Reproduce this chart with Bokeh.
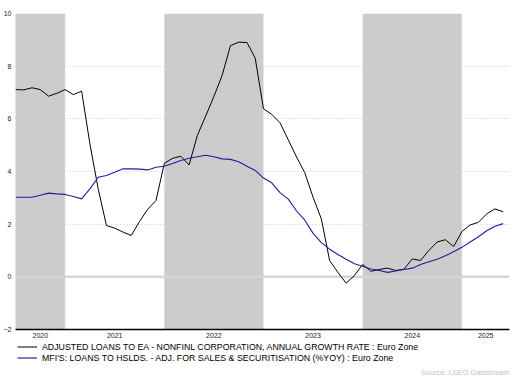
from bokeh.plotting import figure
from bokeh.layouts import column
from bokeh.models import Range1d, FixedTicker, Span, Legend, LegendItem, Label
from bokeh.embed import file_html
from bokeh.resources import INLINE

# ---- data (monthly, first value = June 2020, plotted at month end) ----
start_year, start_month = 2020, 6
nfc_loans = [7.11, 7.10, 7.18, 7.11, 6.86, 6.97, 7.11, 6.92, 7.05, 5.05,
             3.35, 1.95, 1.85, 1.70, 1.57, 2.10, 2.57, 2.90, 4.31, 4.50,
             4.58, 4.25, 5.37, 6.10, 6.85, 7.65, 8.78, 8.91, 8.90, 8.30,
             6.38, 6.17, 5.85, 5.20, 4.55, 3.95, 3.02, 2.20, 0.62, 0.17,
             -0.24, 0.05, 0.47, 0.21, 0.28, 0.33, 0.24, 0.29, 0.68, 0.62,
             1.00, 1.32, 1.41, 1.15, 1.72, 1.97, 2.07, 2.39, 2.58, 2.47]
hh_loans = [3.02, 3.02, 3.02, 3.10, 3.18, 3.15, 3.13, 3.05, 2.96, 3.34,
            3.78, 3.85, 3.97, 4.10, 4.10, 4.09, 4.06, 4.16, 4.20, 4.30,
            4.42, 4.50, 4.56, 4.62, 4.56, 4.48, 4.46, 4.37, 4.20, 4.04,
            3.75, 3.57, 3.20, 2.95, 2.50, 2.15, 1.65, 1.30, 1.05, 0.85,
            0.67, 0.50, 0.40, 0.30, 0.24, 0.17, 0.22, 0.28, 0.33, 0.47,
            0.57, 0.67, 0.80, 0.95, 1.12, 1.32, 1.52, 1.75, 1.92, 2.02]
nfc_label = "ADJUSTED LOANS TO EA - NONFINL CORPORATION, ANNUAL GROWTH RATE : Euro Zone"
hh_label = "MFI'S: LOANS TO HSLDS. - ADJ. FOR SALES & SECURITISATION (%YOY) : Euro Zone"
year_labels = ["2020", "2021", "2022", "2023", "2024", "2025"]
year_label_pos = [2020.75, 2021.5, 2022.5, 2023.5, 2024.5, 2025.24]
year_boundaries = [2021, 2022, 2023, 2024, 2025]
shaded_years = [2020, 2022, 2024]
y_ticks = [-2, 0, 2, 4, 6, 8, 10]
y_min, y_max = -2, 10
x_min, x_max = 2020.5, 2025.48
source_text = "Source: LSEG Datastream"

x = [start_year + (start_month + i) / 12 for i in range(len(nfc_loans))]

FONT = "Liberation Sans"
W = 512

p = figure(width=W, height=341, x_range=Range1d(x_min, x_max),
           y_range=Range1d(y_min, y_max), output_backend="svg",
           toolbar_location=None, min_border_left=15, min_border_right=3,
           min_border_top=13, min_border_bottom=12)
p.outline_line_color = None
p.background_fill_color = "white"
p.border_fill_color = "white"

# shaded alternate years
p.quad(left=shaded_years, right=[yr + 1 for yr in shaded_years],
       bottom=y_min, top=y_max, fill_color="#cccccc", line_color=None,
       level="underlay")

# year boundary lines
for b in year_boundaries:
    p.add_layout(Span(location=b, dimension="height", line_color="#e6e6e6",
                      line_width=1, line_dash="1 1", level="underlay"))
# zero line
p.add_layout(Span(location=0, dimension="width", line_color="#d6d6d6",
                  line_width=2.5, level="underlay"))

p.line(x, nfc_loans, line_color="black", line_width=1)
p.line(x, hh_loans, line_color="#1f1f9a", line_width=1.1)

# axes
p.xaxis.ticker = FixedTicker(ticks=year_label_pos)
p.xaxis.major_label_overrides = {pos: lbl for pos, lbl in zip(year_label_pos, year_labels)}
p.xaxis.major_tick_line_color = None
p.xaxis.major_tick_out = 0
p.xaxis.major_tick_in = 0
p.xaxis.minor_tick_line_color = None
p.xaxis.minor_tick_out = 0
p.xaxis.axis_line_color = "black"
p.xaxis.axis_line_width = 1.5
p.xaxis.major_label_text_font = FONT
p.xaxis.major_label_text_font_size = "7px"
p.xaxis.major_label_text_color = "#222222"
p.xaxis.major_label_standoff = 3

p.yaxis.ticker = FixedTicker(ticks=y_ticks)
p.yaxis.axis_line_color = None
p.yaxis.major_tick_line_color = None
p.yaxis.major_tick_out = 0
p.yaxis.major_tick_in = 0
p.yaxis.minor_tick_line_color = None
p.yaxis.minor_tick_out = 0
p.yaxis.major_label_text_font = FONT
p.yaxis.major_label_text_font_size = "7px"
p.yaxis.major_label_text_color = "#222222"
p.yaxis.major_label_standoff = 4

p.xgrid.grid_line_color = None
p.ygrid.ticker = FixedTicker(ticks=[t for t in y_ticks if t > 0])
p.ygrid.grid_line_color = "#cfcfcf"
p.ygrid.grid_line_dash = "1 2"
p.ygrid.grid_line_width = 1

# ---- legend / source strip below the chart ----
H2 = 37
q = figure(width=W, height=H2, x_range=Range1d(0, 1), y_range=Range1d(0, H2),
           output_backend="svg", toolbar_location=None, min_border=0,
           min_border_left=15, min_border_right=3,
           x_axis_type=None, y_axis_type=None)
q.outline_line_color = None
q.xgrid.grid_line_color = None
q.ygrid.grid_line_color = None
q.background_fill_color = "white"
q.border_fill_color = "white"

# legend keys (series data lie outside this strip's ranges, only the keys show)
k_nfc = q.line(x, nfc_loans, line_color="black", line_width=1)
k_hh = q.line(x, hh_loans, line_color="#7f7fc0", line_width=2)

legend = Legend(items=[LegendItem(label=nfc_label, renderers=[k_nfc]),
                       LegendItem(label=hh_label, renderers=[k_hh])],
                location=(2, 15), orientation="vertical",
                border_line_color=None, background_fill_alpha=0,
                label_text_font=FONT, label_text_font_size="8.8px",
                label_text_color="black",
                glyph_width=20, glyph_height=11, label_height=11,
                spacing=0, padding=0, margin=0, label_standoff=5)
q.add_layout(legend, "center")

src = Label(x=1, y=6, text=source_text, text_align="right",
            text_baseline="alphabetic", text_color="#c4c4c4",
            text_font=FONT, text_font_size="7.5px")
q.add_layout(src)

layout = column(p, q, spacing=0)
open("out.html", "w").write(file_html(layout, INLINE))
